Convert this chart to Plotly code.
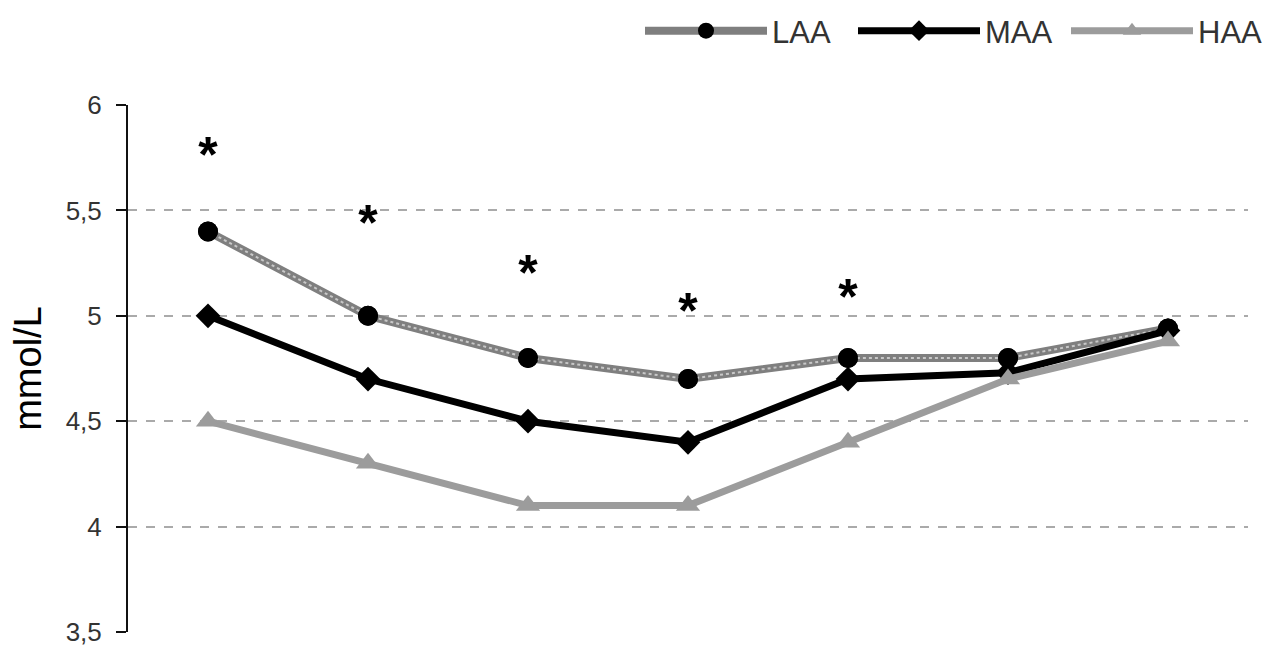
import plotly.graph_objects as go

time_points = [0, 1, 2, 3, 4, 5, 6]
laa = [5.4, 5.0, 4.8, 4.7, 4.8, 4.8, 4.94]
maa = [5.0, 4.7, 4.5, 4.4, 4.7, 4.73, 4.93]
haa = [4.5, 4.3, 4.1, 4.1, 4.4, 4.7, 4.88]
star_x = [0, 1, 2, 3, 4]
star_y = [5.74, 5.42, 5.18, 5.0, 5.07]
y_tickvals = [3.5, 4, 4.5, 5, 5.5, 6]
y_ticktext = ["3,5", "4", "4,5", "5", "5,5", "6"]
grid_vals = [4, 4.5, 5, 5.5]

fig = go.Figure()

# grid carrier on a secondary axis
fig.add_trace(go.Scatter(x=[None], y=[None], yaxis="y2", showlegend=False, hoverinfo="skip"))

# LAA: textured grey line with black circles
fig.add_trace(go.Scatter(x=time_points, y=laa, mode="lines+markers", name="LAA",
                         line=dict(color="#7f7f7f", width=8),
                         marker=dict(symbol="circle", size=20, color="black")))
fig.add_trace(go.Scatter(x=time_points, y=laa, mode="lines", showlegend=False,
                         line=dict(color="#c8c8c8", width=2, dash="dot"),
                         hoverinfo="skip"))
fig.add_trace(go.Scatter(x=time_points, y=laa, mode="markers", showlegend=False,
                         marker=dict(symbol="circle", size=20, color="black"),
                         hoverinfo="skip"))
fig.add_trace(go.Scatter(x=time_points, y=maa, mode="lines+markers", name="MAA",
                         line=dict(color="black", width=7),
                         marker=dict(symbol="diamond", size=19, color="black")))
fig.add_trace(go.Scatter(x=time_points, y=haa, mode="lines+markers", name="HAA",
                         line=dict(color="#9c9c9c", width=7),
                         marker=dict(symbol="triangle-up", size=21, color="#9c9c9c")))
fig.add_trace(go.Scatter(x=star_x, y=star_y, mode="text", text=["<b>*</b>"] * len(star_x),
                         textfont=dict(size=50, color="black", family="Liberation Sans"),
                         showlegend=False, hoverinfo="skip"))

fig.update_layout(
    width=1272, height=645,
    margin=dict(l=128, r=24, t=105, b=13),
    paper_bgcolor="white", plot_bgcolor="white",
    font=dict(family="Liberation Sans, Arial, sans-serif", color="#333333"),
    showlegend=True,
    legend=dict(orientation="h", xref="container", yref="container",
                x=640 / 1272, xanchor="left", y=1 - 31 / 645, yanchor="middle",
                font=dict(size=31, color="#333333"), itemwidth=122,
                entrywidth=76, entrywidthmode="pixels",
                traceorder="normal", tracegroupgap=0, bgcolor="rgba(0,0,0,0)"),
    xaxis=dict(range=[-0.5, 6.5], showgrid=False, zeroline=False, showline=False,
               showticklabels=False, ticks=""),
    yaxis=dict(range=[3.5, 6], tickvals=y_tickvals, ticktext=y_ticktext,
               showgrid=False, zeroline=False, showline=True, linecolor="#111111",
               linewidth=2, ticks="outside", ticklen=10, tickcolor="#111111",
               tickwidth=2, tickfont=dict(size=26, color="#333333"),
               ticklabelstandoff=9, ticklabeloverflow="allow", automargin=False,
               title=dict(text="mmol/L", font=dict(size=38, color="black"), standoff=12)),
    yaxis2=dict(range=[3.5, 6], overlaying="y", tickvals=grid_vals, showgrid=True,
                gridcolor="#aaaaaa", griddash="dash", gridwidth=1.5,
                showticklabels=False, ticks="", zeroline=False, showline=False),
)

fig.write_html("out.html", config={"displayModeBar": False},
               post_script="document.body.style.margin='0';")
